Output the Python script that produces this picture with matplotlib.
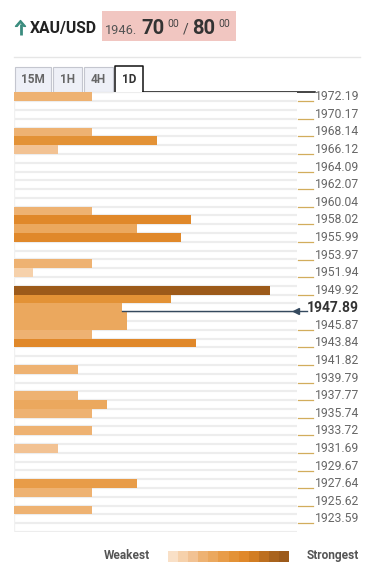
import matplotlib
matplotlib.use("Agg")
import matplotlib.pyplot as plt
import matplotlib.transforms as mtransforms
from matplotlib.patches import Rectangle, Polygon

plt.rcParams['font.family'] = ['Roboto', 'DejaVu Sans']

# ---------------- data ----------------
symbol = "XAU/USD"
quote_big = "1946."
bid_pips, bid_frac = "70", "00"
ask_pips, ask_frac = "80", "00"
timeframes = ["15M", "1H", "4H", "1D"]
active_tf = "1D"

price_labels = ["1972.19", "1970.17", "1968.14", "1966.12", "1964.09", "1962.07",
                "1960.04", "1958.02", "1955.99", "1953.97", "1951.94", "1949.92",
                "1947.89", "1945.87", "1943.84", "1941.82", "1939.79", "1937.77",
                "1935.74", "1933.72", "1931.69", "1929.67", "1927.64", "1925.62",
                "1923.59"]
current_price = 1947.89

bar_prices = [1972.19, 1968.14, 1967.13, 1966.12, 1959.03, 1958.02, 1957.00,
              1955.99, 1952.95, 1951.94, 1949.92, 1948.90, 1947.89, 1946.88,
              1945.87, 1944.85, 1943.84, 1940.80, 1937.77, 1936.75, 1935.74,
              1933.72, 1931.69, 1927.64, 1926.63, 1924.60]
bar_strength = [78, 78, 143, 44, 78, 177, 123, 167, 78, 19, 256, 157, 108, 113,
                113, 78, 182, 64, 64, 93, 78, 78, 44, 123, 78, 78]
bar_level = [3, 3, 6, 2, 3, 7, 4, 7, 3, 1, 11, 6, 4, 4, 4, 3, 7, 3, 3, 4, 3, 3,
             2, 5, 3, 3]

palette = ['#f9e0c7', '#f6d1ab', '#f2c293', '#eeb272', '#eba85e', '#e89c48',
           '#e39236', '#e0882a', '#d27d22', '#bd6f1f', '#a9631d', '#9c5a1a']

# ---------------- figure ----------------
W, H = 375, 575
fig = plt.figure(figsize=(W / 100, H / 100), dpi=100)
fig.patch.set_facecolor('white')

ax0 = fig.add_axes([0, 0, 1, 1], zorder=0)
ax0.set_xlim(0, W)
ax0.set_ylim(H, 0)
ax0.axis('off')

# header arrow
arrow_col = '#3a8c7e'
ax0.plot([20.5, 20.5], [24, 35], color=arrow_col, lw=2.0, solid_capstyle='butt')
ax0.add_patch(Polygon([[15.2, 26.5], [20.5, 20.3], [25.8, 26.5], [23.8, 26.5],
                       [20.5, 22.6], [17.2, 26.5]], closed=True,
                      facecolor=arrow_col, edgecolor=arrow_col, lw=0.8))
ax0.text(30, 33.5, symbol, color='#222222', fontsize=11.3, fontweight='bold',
         va='baseline', ha='left')
ax0.add_patch(Rectangle((102, 11), 134, 29.7, facecolor='#f1c6c1', edgecolor='none'))
ax0.text(105, 33.5, quote_big, color='#555555', fontsize=9.2, va='baseline', ha='left')
ax0.text(141.5, 34, bid_pips, color='#333333', fontsize=14.5, fontweight='bold',
         va='baseline', ha='left')
ax0.text(167, 18.8, bid_frac, color='#444444', fontsize=7.5, va='top', ha='left')
ax0.text(182.5, 34, "/", color='#444444', fontsize=10, va='baseline', ha='left')
ax0.text(192.5, 34, ask_pips, color='#333333', fontsize=14.5, fontweight='bold',
         va='baseline', ha='left')
ax0.text(218, 18.8, ask_frac, color='#444444', fontsize=7.5, va='top', ha='left')

# separator
ax0.plot([14, 360], [56.7, 56.7], color='#e6e6e6', lw=1)

# tabs
tab_x = [(15, 50.7), (53.3, 81.7), (84.3, 112.7), (115, 142.7)]
for (x0, x1), tf in zip(tab_x, timeframes):
    if tf == active_tf:
        ax0.add_patch(Rectangle((x0, 66), x1 - x0, 27, facecolor='white',
                                edgecolor='none'))
        ax0.plot([x0, x0, x1, x1], [92.3, 66, 66, 92.3], color='#111111', lw=1.1)
        ax0.text((x0 + x1) / 2, 79.5, tf, color='#333333', fontsize=8.5,
                 fontweight='bold', ha='center', va='center')
    else:
        ax0.add_patch(Rectangle((x0, 66.7), x1 - x0, 25.6, facecolor='#eef0f7',
                                edgecolor='#c4c6cf', lw=0.8))
        ax0.text((x0 + x1) / 2, 79.5, tf, color='#666666', fontsize=8.5,
                 fontweight='bold', ha='center', va='center')
ax0.plot([142.7, 315], [92.3, 92.3], color='#111111', lw=1.1)

# ---------------- chart axes ----------------
step = 2.025 / 2
n_rows = 50
top = float(price_labels[0]) + step / 2
bottom = top - n_rows * step

ax = fig.add_axes([14 / W, 1 - 532 / H, 283 / W, (532 - 92.4) / H], zorder=1)
ax.patch.set_alpha(0)
ax.set_xlim(0, 283)
ax.set_ylim(bottom, top)
for s in ax.spines.values():
    s.set_visible(False)
ax.set_xticks([])
ax.set_yticks([])

# row separators
for k in range(n_rows + 1):
    ax.axhline(top - k * step, color='#ededed', lw=1.6, zorder=0)
ax.axvline(0, color='#f1f1f1', lw=1, zorder=0)

ax.barh(bar_prices, bar_strength, height=step, left=0,
        color=[palette[l] for l in bar_level], edgecolor='none', zorder=2)

# price labels on the right
trans = mtransforms.blended_transform_factory(ax0.transData, ax.transData)
tick_trans = mtransforms.offset_copy(trans, fig=fig, x=0, y=-4.5, units='dots')
for lab in price_labels:
    v = float(lab)
    if abs(v - current_price) < 1e-6:
        ax.text(359, v, lab, transform=trans, ha='right', va='center',
                fontsize=10, fontweight='bold', color='#333333')
    else:
        ax.text(359, v, lab, transform=trans, ha='right', va='center',
                fontsize=8.7, color='#666666')
        ax.plot([298, 313], [v, v], transform=tick_trans, color='#d2ad5c',
                lw=0.9, clip_on=False)

# current price line
cur_idx = bar_prices.index(current_price)
line_y = current_price - 0.35 * step
ax.plot([bar_strength[cur_idx], 293], [line_y, line_y], color='#34495e', lw=1,
        clip_on=False, zorder=3)
ax.plot([282], [line_y], marker='<', color='#34495e', markersize=4.5,
        clip_on=False, zorder=4)

# ---------------- legend ----------------
ax0.text(104, 555.5, "Weakest", color='#555555', fontsize=8.6, fontweight='bold',
         ha='left', va='center')
ax0.text(359, 555.5, "Strongest", color='#555555', fontsize=8.6, fontweight='bold',
         ha='right', va='center')
cell_w = (289 - 168) / len(palette)
for i, c in enumerate(palette):
    ax0.add_patch(Rectangle((168 + i * cell_w, 550.7), cell_w + 0.3, 11,
                            facecolor=c, edgecolor='none'))

fig.savefig("out.png", dpi=100, facecolor='white')
